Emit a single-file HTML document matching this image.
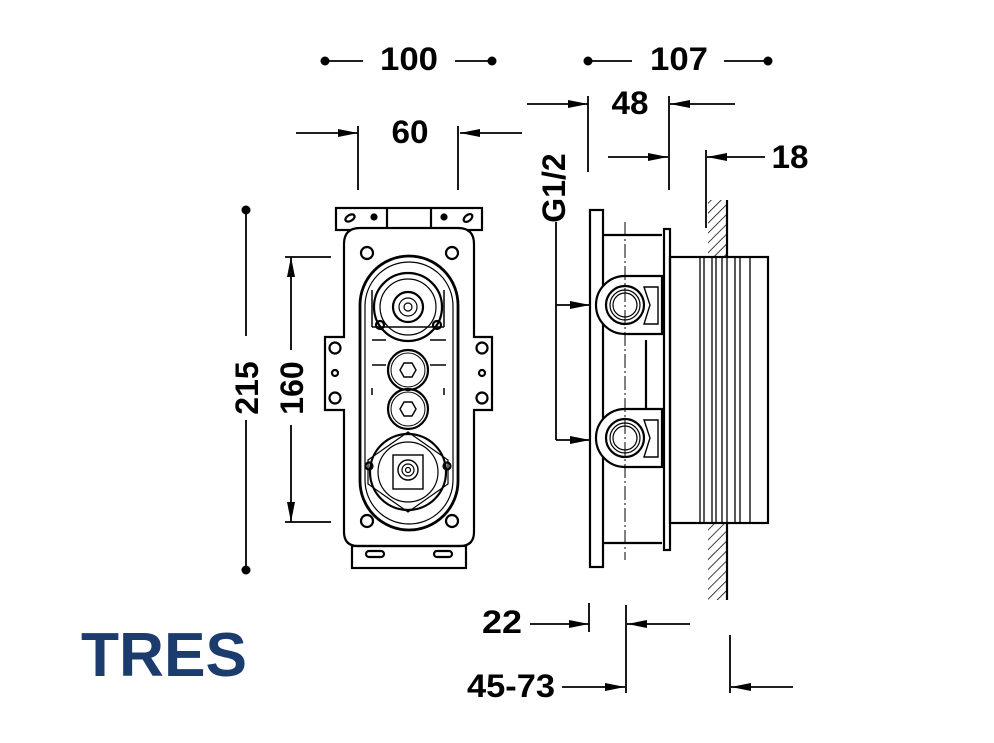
<!DOCTYPE html>
<html><head><style>html,body{margin:0;padding:0;background:#fff}svg{display:block}</style></head>
<body>
<svg width="994" height="743" viewBox="0 0 994 743" xmlns="http://www.w3.org/2000/svg">
<defs>
<marker id="ar" markerWidth="20" markerHeight="10" refX="20" refY="5" orient="auto" markerUnits="userSpaceOnUse"><path d="M0,1 L20,5 L0,9 Z" fill="#000"/></marker>
<pattern id="hatch" width="7" height="7" patternUnits="userSpaceOnUse" patternTransform="rotate(45)"><line x1="0" y1="0" x2="0" y2="7" stroke="#000" stroke-width="1.5"/></pattern>
</defs>
<g font-family="Liberation Sans, Arial, sans-serif" font-weight="bold" font-size="32" fill="#000" text-anchor="middle">
<text x="409" y="70" textLength="58" lengthAdjust="spacingAndGlyphs">100</text>
<text x="679" y="70" textLength="58" lengthAdjust="spacingAndGlyphs">107</text>
<text x="630" y="114" textLength="37" lengthAdjust="spacingAndGlyphs">48</text>
<text x="410" y="143" textLength="37" lengthAdjust="spacingAndGlyphs">60</text>
<text x="790" y="168" textLength="37" lengthAdjust="spacingAndGlyphs">18</text>
<text x="502" y="633" textLength="40" lengthAdjust="spacingAndGlyphs">22</text>
<text x="511" y="697" textLength="88" lengthAdjust="spacingAndGlyphs">45-73</text>
<text transform="translate(565,188) rotate(-90)">G1/2</text>
<text transform="translate(258,388) rotate(-90)">215</text>
<text transform="translate(303,388) rotate(-90)">160</text>
</g>
<g stroke="#000" stroke-width="1.8" fill="none">
<line x1="325" y1="61" x2="363" y2="61"/><line x1="455" y1="61" x2="492" y2="61"/>
<line x1="588" y1="61" x2="632" y2="61"/><line x1="724" y1="61" x2="768" y2="61"/>
<line x1="527" y1="104" x2="588" y2="104" marker-end="url(#ar)"/>
<line x1="735" y1="104" x2="670" y2="104" marker-end="url(#ar)"/>
<line x1="588" y1="96" x2="588" y2="172"/>
<line x1="669" y1="96" x2="669" y2="190"/>
<line x1="296" y1="133" x2="358" y2="133" marker-end="url(#ar)"/>
<line x1="522" y1="133" x2="460" y2="133" marker-end="url(#ar)"/>
<line x1="358" y1="126" x2="358" y2="190"/><line x1="458" y1="126" x2="458" y2="190"/>
<line x1="608" y1="157" x2="668" y2="157" marker-end="url(#ar)"/>
<line x1="765" y1="157" x2="707" y2="157" marker-end="url(#ar)"/>
<line x1="706" y1="150" x2="706" y2="228"/>
<line x1="556" y1="222" x2="556" y2="440"/>
<line x1="556" y1="305" x2="590" y2="305" marker-end="url(#ar)"/>
<line x1="556" y1="440" x2="590" y2="440" marker-end="url(#ar)"/>
<line x1="246" y1="210" x2="246" y2="336"/><line x1="246" y1="420" x2="246" y2="570"/>
<line x1="291" y1="350" x2="291" y2="257" marker-end="url(#ar)"/>
<line x1="291" y1="425" x2="291" y2="522" marker-end="url(#ar)"/>
<line x1="285" y1="257" x2="331" y2="257"/><line x1="285" y1="522" x2="331" y2="522"/>
<line x1="530" y1="624" x2="589" y2="624" marker-end="url(#ar)"/>
<line x1="690" y1="624" x2="627" y2="624" marker-end="url(#ar)"/>
<line x1="589" y1="603" x2="589" y2="632"/>
<line x1="626" y1="605" x2="626" y2="693"/>
<line x1="562" y1="687" x2="625" y2="687" marker-end="url(#ar)"/>
<line x1="793" y1="687" x2="731" y2="687" marker-end="url(#ar)"/>
<line x1="730" y1="635" x2="730" y2="693"/>
</g>
<g fill="#000">
<circle cx="325" cy="61" r="4.5"/><circle cx="492" cy="61" r="4.5"/>
<circle cx="588" cy="61" r="4.5"/><circle cx="768" cy="61" r="4.5"/>
<circle cx="246" cy="210" r="4.5"/><circle cx="246" cy="570" r="4.5"/>
</g>
<g stroke="#000" stroke-width="2.2" fill="none">
<rect x="336" y="208" width="146" height="22"/>
<line x1="387" y1="208" x2="387" y2="230"/><line x1="431" y1="208" x2="431" y2="230"/>
<ellipse cx="350" cy="218" rx="5" ry="3" transform="rotate(-30 350 218)"/>
<ellipse cx="468" cy="218" rx="5" ry="3" transform="rotate(-40 468 218)"/>
<circle cx="374" cy="217" r="2.5" fill="#000"/><circle cx="444" cy="217" r="2.5" fill="#000"/>
<path d="M360,228 H458 Q474,228 474,244 V337 H492 V410 H474 V532 Q474,546 460,546 H358 Q344,546 344,532 V410 H325 V337 H344 V244 Q344,228 360,228 Z" fill="#fff"/>
<rect x="352" y="546" width="114" height="22"/>
<rect x="366" y="551" width="18" height="6" rx="3"/><rect x="434" y="551" width="18" height="6" rx="3"/>
<circle cx="367" cy="253" r="6"/><circle cx="452" cy="253" r="6"/>
<circle cx="367" cy="521" r="6"/><circle cx="452" cy="521" r="6"/>
<circle cx="335" cy="348" r="5.5"/><circle cx="335" cy="398" r="5.5"/><circle cx="335" cy="373" r="3"/>
<circle cx="482" cy="348" r="5.5"/><circle cx="482" cy="398" r="5.5"/><circle cx="482" cy="373" r="3"/>
<rect x="360" y="256" width="98" height="274" rx="49" stroke-width="2.8"/>
<rect x="365" y="262" width="88" height="262" rx="44" stroke-width="1.2"/>
<path d="M372,327 V290 M444,327 V290 M372,327 H444" stroke-width="1.5"/>
<circle cx="408" cy="307" r="34"/><circle cx="408" cy="307" r="28" stroke-width="1.2"/>
<circle cx="408" cy="307" r="15"/><circle cx="408" cy="307" r="9" stroke-width="1.2"/><circle cx="408" cy="307" r="4" stroke-width="1.2"/>
<circle cx="380" cy="325" r="4"/><circle cx="437" cy="325" r="4"/>
<circle cx="408" cy="370" r="20"/><circle cx="408" cy="370" r="17" stroke-width="1"/>
<polygon points="416,370 412,377 404,377 400,370 404,363 412,363" stroke-width="1.4"/>
<circle cx="408" cy="409" r="20"/><circle cx="408" cy="409" r="17" stroke-width="1"/>
<polygon points="416,409 412,416 404,416 400,409 404,402 412,402" stroke-width="1.4"/>
<path d="M372,340 H386 M430,340 H446 M372,365 H386 M430,365 H446 M372,388 V395 M444,388 V395" stroke-width="1.5"/>
<circle cx="408" cy="472" r="38"/><circle cx="408" cy="472" r="30" stroke-width="1.2"/>
<path d="M368,460 L408,432 L448,460 L448,484 L408,512 L368,484 Z" stroke-width="1.2"/>
<rect x="393" y="455" width="30" height="34" stroke-width="1.4"/>
<circle cx="408" cy="470" r="10" stroke-width="1.4"/><circle cx="408" cy="470" r="6" stroke-width="1.2"/><circle cx="408" cy="470" r="2.5" stroke-width="1.2"/>
<circle cx="369" cy="466" r="3.5"/><circle cx="447" cy="466" r="3.5"/>
</g>
<g stroke="#000" stroke-width="2.2" fill="none">
<rect x="708" y="200" width="19" height="57" fill="url(#hatch)" stroke="none"/>
<rect x="708" y="523" width="19" height="77" fill="url(#hatch)" stroke="none"/>
<line x1="727" y1="200" x2="727" y2="257"/><line x1="727" y1="523" x2="727" y2="600"/>
<rect x="590" y="210" width="13" height="357"/>
<line x1="603" y1="235" x2="662" y2="235"/><line x1="603" y1="543" x2="662" y2="543"/>
<rect x="664" y="229" width="6" height="321"/>
<rect x="670" y="257" width="98" height="266"/>
<g stroke-width="1.3">
<line x1="700" y1="257" x2="700" y2="523"/><line x1="704" y1="257" x2="704" y2="523"/>
<line x1="712" y1="257" x2="712" y2="523"/><line x1="716" y1="257" x2="716" y2="523"/>
<line x1="722" y1="257" x2="722" y2="523"/><line x1="727" y1="257" x2="727" y2="523"/>
<line x1="735" y1="257" x2="735" y2="523"/><line x1="740" y1="257" x2="740" y2="523"/>
<line x1="750" y1="257" x2="750" y2="523"/>
</g>
<path d="M625,276 H662 V334 H625 A29,29 0 0 1 625,276 Z" fill="#fff"/>
<path d="M625,409 H662 V467 H625 A29,29 0 0 1 625,409 Z" fill="#fff"/>
<circle cx="625" cy="305" r="19"/><circle cx="625" cy="305" r="15" stroke-width="1.2"/><circle cx="625" cy="305" r="12" stroke-width="1.2"/>
<circle cx="625" cy="438" r="19"/><circle cx="625" cy="438" r="15" stroke-width="1.2"/><circle cx="625" cy="438" r="12" stroke-width="1.2"/>
<path d="M644,287 H658 V324 H644 L650,305 Z" stroke-width="1.4"/>
<path d="M644,420 H658 V457 H644 L650,438 Z" stroke-width="1.4"/>
<line x1="646" y1="340" x2="646" y2="409"/>
<line x1="625" y1="222" x2="625" y2="560" stroke-width="1" stroke-dasharray="14,3,2,3"/>
</g>
<text x="164" y="676" font-family="Liberation Sans, Arial, sans-serif" font-weight="bold" font-size="62" fill="#1d3c6e" text-anchor="middle" textLength="166" lengthAdjust="spacingAndGlyphs">TRES</text>
</svg>
</body></html>
